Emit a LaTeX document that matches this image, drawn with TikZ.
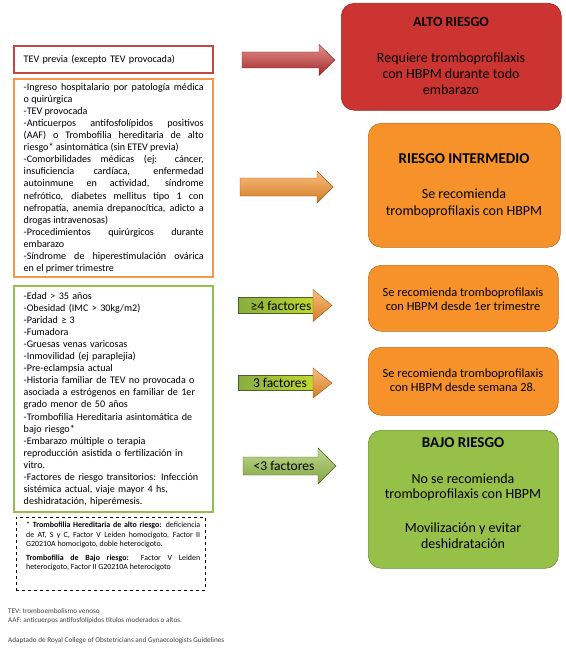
\documentclass[tikz,border=0pt]{standalone}
\usepackage{fontspec}
\setmainfont{Carlito}
\tolerance=10000
\hbadness=10000
\definecolor{redfill}{RGB}{204,52,50}
\definecolor{redline}{RGB}{192,72,70}
\definecolor{orfill}{RGB}{247,146,42}
\definecolor{orline}{RGB}{247,150,70}
\definecolor{grfill}{RGB}{150,192,72}
\definecolor{grline}{RGB}{150,190,80}
\newcommand\bodyarrow[7]{%
  \path[#7] (#1,#4-#5) -- (#2,#4-#5) -- (#2,#4-#6) -- (#3,#4) -- (#2,#4+#6) -- (#2,#4+#5) -- (#1,#4+#5) -- cycle;}
\newcommand\headarrow[6]{%
  \path[#6] (#2,#4-#5) -- (#3,#4) -- (#2,#4+#5) -- cycle;}
\tikzset{
  leftbox/.style={draw, line width=2.4pt, anchor=north west, inner sep=0pt,
    font=\fontsize{10.1}{12.1}\selectfont},
  rbox/.style={rounded corners=13pt, anchor=north west, draw=#1!75!black, line width=0.6pt, fill=#1},
  rtitle/.style={font=\bfseries\fontsize{15}{17}\selectfont},
  rbody/.style={align=center, inner sep=0pt},
  flabel/.style={font=\fontsize{13.5}{15}\selectfont, inner sep=0pt},
}
\begin{document}
\begin{tikzpicture}[x=1pt,y=-1pt]
\useasboundingbox (0,0) rectangle (565,650);

% ---------- left boxes
\node[leftbox, align=left, draw=redline, minimum width=199, minimum height=27, text width=180] (tev) at (13,45)
  {TEV previa (excepto TEV provocada)};
\node[leftbox, align=justify, draw=orline, minimum width=199, minimum height=198, text width=180] (inter) at (13,78)
  {\noindent -Ingreso hospitalario por patología médica\linebreak o quirúrgica\par
   \noindent -TEV provocada\par
   \noindent -Anticuerpos antifosfolípidos positivos\linebreak
   (AAF) o Trombofilia hereditaria de alto\linebreak
   riesgo* asintomática (sin ETEV previa)\par
   \noindent -Comorbilidades médicas (ej: cáncer,\linebreak
   insuficiencia cardíaca, enfermedad\linebreak
   autoinmune en actividad, síndrome\linebreak
   nefrótico, diabetes mellitus tipo 1 con\linebreak
   nefropatía, anemia drepanocítica, adicto a\linebreak
   drogas intravenosas)\par
   \noindent -Procedimientos quirúrgicos durante\linebreak
   embarazo\par
   \noindent -Síndrome de hiperestimulación ovárica\linebreak
   en el primer trimestre};
\node[leftbox, align=left, draw=grline, minimum width=199, minimum height=226, text width=180] (factors) at (13,285)
  {-Edad > 35 años\\
   -Obesidad (IMC > 30kg/m2)\\
   -Paridad ≥ 3\\
   -Fumadora\\
   -Gruesas venas varicosas\\
   -Inmovilidad (ej paraplejia)\\
   -Pre-eclampsia actual\\
   -Historia familiar de TEV no provocada o\\
   asociada a estrógenos en familiar de 1er\\
   grado menor de 50 años\\
   -Trombofilia Hereditaria asintomática de\\
   bajo riesgo*\\
   -Embarazo múltiple o terapia\\
   reproducción asistida o fertilización in\\
   vitro.\\
   -Factores de riesgo transitorios: Infección\\
   sistémica actual, viaje mayor 4 hs,\\
   deshidratación, hiperémesis.};
\node[draw, dashed, line width=0.7pt, anchor=north west, minimum width=189, minimum height=73, inner sep=0pt] (note) at (16,517) {};
\node[anchor=north west, inner sep=0pt, text width=174, align=justify,
      font=\fontsize{7.9}{9.2}\selectfont] (notetext) at (26,522)
  {\noindent * \textbf{Trombofilia Hereditaria de alto riesgo:} deficiencia\linebreak
   de AT, S y C, Factor V Leiden homocigoto, Factor II\linebreak
   G20210A homocigoto, doble heterocigoto.\par\vspace{5pt}
   \noindent\textbf{Trombofilia de Bajo riesgo:} Factor V Leiden\linebreak
   heterocigoto, Factor II G20210A heterocigoto};

% ---------- footer
\node[anchor=north west, inner sep=0pt, align=left, text=black!75,
      font=\fontsize{7.2}{9}\selectfont] (footer) at (8,608)
  {TEV: tromboembolismo venoso\\
   AAF: anticuerpos antifosfolípidos títulos moderados o altos.\\[11pt]
   Adaptado de Royal College of Obstetricians and Gynaecologists Guidelines};

% ---------- right boxes
\node[rbox=redfill, minimum width=220, minimum height=107] (alto) at (341,3) {};
\node[rtitle, font=\bfseries\fontsize{14}{16}\selectfont] (altot) at (451,22) {ALTO RIESGO};
\node[rbody, font=\fontsize{14}{16}\selectfont] (altob) at (451,74)
  {Requiere tromboprofilaxis\\con HBPM durante todo\\embarazo};

\node[rbox=orfill, minimum width=192, minimum height=124] (media) at (368,123) {};
\node[rtitle] (mediat) at (464,159) {RIESGO INTERMEDIO};
\node[rbody, font=\fontsize{14}{17}\selectfont] (mediab) at (464,203.5)
  {Se recomienda\\tromboprofilaxis con HBPM};

\node[rbox=orfill, minimum width=190, minimum height=66] (cuatro) at (368,265) {};
\node[rbody, font=\fontsize{12.4}{14.5}\selectfont] (cuatrob) at (463,299)
  {Se recomienda tromboprofilaxis\\con HBPM desde 1er trimestre};

\node[rbox=orfill, minimum width=190, minimum height=68] (tres) at (368,347) {};
\node[rbody, font=\fontsize{12.4}{14.5}\selectfont] (tresb) at (463,380)
  {Se recomienda tromboprofilaxis\\con HBPM desde semana 28.};

\node[rbox=grfill, minimum width=190, minimum height=138] (bajo) at (368,430) {};
\node[rtitle] (bajot) at (463,443) {BAJO RIESGO};
\node[rbody, font=\fontsize{14}{15.5}\selectfont] (bajob1) at (463,487.5)
  {No se recomienda\\tromboprofilaxis con HBPM};
\node[rbody, font=\fontsize{14}{16}\selectfont] (bajob2) at (463,536)
  {Movilización y evitar\\deshidratación};

% ---------- arrows
\bodyarrow{242}{319}{335}{60}{8}{15.5}{top color=redfill!55!white, bottom color=redfill!80!black, draw=redfill!60!black, line width=0.4pt}
\bodyarrow{240}{317}{333}{187}{9}{16}{top color=orfill!60!white, bottom color=orfill!85!black, draw=orfill!60!black, line width=0.4pt}

\path[left color=grfill!90!black, right color=grfill!60!yellow, draw=grfill!50!black, line width=0.4pt] (238,297.5) rectangle (313,313);
\headarrow{0}{313}{332}{305.5}{16}{top color=orfill!60!white, bottom color=orfill!85!black, draw=orfill!60!black, line width=0.4pt}
\node[flabel] (f4) at (281,305.5) {≥4 factores};

\path[left color=grfill!90!black, right color=grfill!60!yellow, draw=grfill!50!black, line width=0.4pt] (238,375) rectangle (313,390.5);
\headarrow{0}{313}{332}{383}{15}{top color=orfill!60!white, bottom color=orfill!85!black, draw=orfill!60!black, line width=0.4pt}
\node[flabel] (f3) at (280,383) {3 factores};

\bodyarrow{243}{318}{336}{466}{9}{18}{top color=grfill!60!white, bottom color=grfill!85!black, draw=grfill!50!black, line width=0.4pt}
\node[flabel] (f2) at (284,466) {<3 factores};
\end{tikzpicture}
\end{document}
